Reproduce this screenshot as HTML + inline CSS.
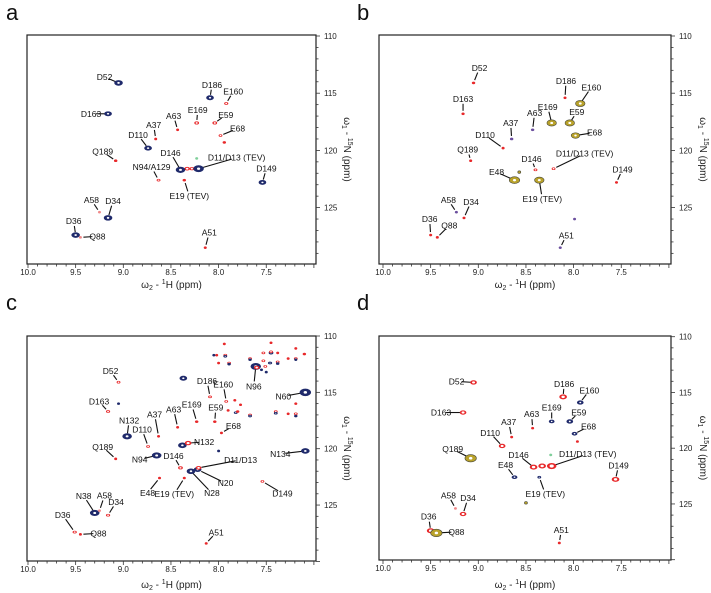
<!DOCTYPE html>
<html><head><meta charset="utf-8">
<style>
html,body{margin:0;padding:0;background:#fff;}
svg{display:block;font-family:"Liberation Sans",sans-serif;}
</style></head>
<body>
<svg id="fig" width="711" height="593" viewBox="0 0 711 593"></svg>
<script>
// ---- data ----
const hTicks = [10.0, 9.5, 9.0, 8.5, 8.0, 7.5];
const nTicks = [110, 115, 120, 125];
const panelLetters = ['a','b','c','d'];

// peaks: [H ppm, N ppm, colour code, half-width ppm]
const peaksA = [[9.05,114.1,'n',0.045],[8.09,115.4,'n',0.04],[7.92,115.9,'r',0.022],[9.16,116.8,'n',0.04],[8.23,117.6,'r',0.025],[8.04,117.6,'r',0.025],[8.43,118.2,'r',0.012],[8.66,119.0,'r',0.008],[7.98,118.7,'r',0.02],[7.94,119.3,'r',0.018],[8.74,119.8,'n',0.04],[9.08,120.9,'r',0.018],[8.33,121.6,'r',0.03],[8.28,121.6,'r',0.025],[8.40,121.7,'n',0.05],[8.21,121.6,'n',0.055],[8.23,120.7,'g',0.008],[8.63,122.6,'r',0.02],[8.36,122.6,'r',0.018],[7.54,122.8,'n',0.04],[9.25,125.4,'k',0.01],[9.16,125.9,'n',0.045],[9.50,127.4,'n',0.045],[9.45,127.6,'k',0.012],[8.14,128.5,'r',0.015]];
const peaksB = [[9.05,114.1,'r',0.018],[8.09,115.4,'r',0.016],[7.93,115.9,'y',0.05],[9.16,116.8,'r',0.017],[8.23,117.6,'y',0.05],[8.04,117.6,'y',0.05],[8.43,118.2,'p',0.018],[8.65,119.0,'p',0.018],[7.98,118.7,'y',0.045],[8.74,119.8,'r',0.016],[9.08,120.9,'r',0.016],[8.40,121.7,'r',0.02],[8.21,121.6,'r',0.02],[8.62,122.6,'y',0.055],[8.36,122.6,'y',0.05],[7.55,122.8,'r',0.016],[9.23,125.4,'p',0.016],[9.15,125.9,'r',0.016],[9.50,127.4,'r',0.016],[9.43,127.6,'r',0.016],[8.14,128.5,'p',0.016],[7.99,126.0,'p',0.005],[8.57,121.9,'y',0.008]];
const peaksC = [[9.05,114.1,'r',0.02],[8.37,113.75,'n',0.04],[9.05,116.0,'n',0.01],[8.09,115.4,'r',0.02],[7.92,115.8,'r',0.02],[9.16,116.7,'r',0.022],[8.23,117.6,'r',0.018],[8.04,117.6,'r',0.018],[8.43,118.1,'r',0.008],[8.63,118.9,'r',0.007],[7.97,118.6,'r',0.016],[8.96,118.9,'n',0.05],[8.74,119.8,'r',0.02],[8.38,119.7,'n',0.045],[8.32,119.5,'r',0.035],[9.08,120.9,'r',0.014],[8.65,120.6,'n',0.05],[8.40,121.7,'r',0.025],[8.29,122.0,'n',0.045],[8.22,121.85,'n',0.04],[8.21,121.7,'r',0.03],[8.62,122.6,'r',0.016],[8.36,122.6,'r',0.016],[7.54,122.9,'r',0.02],[9.30,125.7,'n',0.05],[9.25,125.5,'k',0.012],[9.16,125.9,'r',0.022],[9.51,127.4,'r',0.022],[9.45,127.6,'r',0.008],[8.13,128.4,'r',0.01],[7.09,115.0,'n',0.06],[7.09,120.2,'n',0.045],[7.61,112.7,'n',0.055],[7.60,112.8,'r',0.03],[8.00,120.2,'n',0.015],[7.93,111.7,'r',0.02],[7.93,111.8,'n',0.02],[8.02,111.7,'r',0.015],[7.94,110.7,'r',0.008],[7.89,112.4,'r',0.02],[7.89,112.5,'n',0.018],[8.00,112.4,'r',0.015],[7.67,112.0,'r',0.02],[7.67,112.1,'n',0.018],[7.53,111.5,'r',0.02],[7.45,111.5,'n',0.025],[7.45,111.4,'r',0.02],[7.45,110.6,'r',0.008],[7.53,112.2,'r',0.02],[7.51,112.7,'r',0.02],[7.46,112.4,'n',0.022],[7.38,112.3,'r',0.02],[7.38,112.45,'n',0.018],[7.38,111.5,'r',0.015],[7.27,112.0,'r',0.015],[7.19,112.0,'r',0.02],[7.19,112.1,'n',0.015],[7.10,111.6,'r',0.018],[7.19,111.1,'r',0.007],[7.19,116.0,'r',0.007],[7.19,116.9,'r',0.02],[7.19,117.1,'n',0.018],[7.27,116.9,'r',0.012],[7.40,116.7,'r',0.02],[7.40,116.85,'n',0.02],[7.67,117.0,'r',0.02],[7.67,117.1,'n',0.02],[7.82,116.8,'n',0.02],[7.80,116.7,'r',0.018],[7.77,116.1,'r',0.01],[7.83,115.7,'r',0.01],[7.90,116.6,'r',0.012],[7.50,113.2,'n',0.01],[8.05,111.7,'n',0.008],[7.55,113.0,'n',0.012]];
const peaksD = [[9.05,114.1,'r',0.035],[8.11,115.4,'r',0.04],[7.93,115.9,'n',0.035],[9.16,116.8,'r',0.035],[8.23,117.6,'n',0.03],[8.04,117.6,'n',0.035],[8.43,118.2,'r',0.01],[8.65,119.0,'r',0.008],[7.99,118.7,'n',0.03],[7.96,119.4,'r',0.015],[8.75,119.8,'r',0.035],[9.08,120.9,'y',0.06],[8.42,121.7,'r',0.04],[8.33,121.6,'r',0.04],[8.23,121.6,'r',0.05],[8.24,120.6,'g',0.008],[8.62,122.6,'n',0.03],[8.36,122.6,'n',0.02],[7.56,122.8,'r',0.04],[9.24,125.4,'k',0.008],[9.16,125.9,'r',0.035],[9.50,127.4,'r',0.04],[9.44,127.6,'y',0.06],[8.15,128.5,'r',0.01],[8.50,124.9,'y',0.005]];

// labels: [text, H ppm, N ppm] (anchored at peak)
const labelsA = [['D52',9.05,114.1],['D186',8.09,115.4],['E160',7.92,115.9],['D163',9.16,116.8],['E169',8.23,117.6],['E59',8.04,117.6],['A63',8.43,118.2],['A37',8.66,119.0],['E68',7.98,118.7],['D110',8.74,119.8],['Q189',9.08,120.9],['D146',8.40,121.7],['D11/D13 (TEV)',8.21,121.6],['N94/A129',8.63,122.6],['E19 (TEV)',8.36,122.6],['D149',7.54,122.8],['A58',9.25,125.4],['D34',9.16,125.9],['D36',9.50,127.4],['Q88',9.45,127.6],['A51',8.14,128.5]];
const labelsB = [['D52',9.05,114.1],['D186',8.09,115.4],['E160',7.93,115.9],['D163',9.16,116.8],['E169',8.23,117.6],['E59',8.04,117.6],['A63',8.43,118.2],['A37',8.65,119.0],['E68',7.98,118.7],['D110',8.74,119.8],['Q189',9.08,120.9],['D146',8.40,121.7],['D11/D13 (TEV)',8.21,121.6],['E48',8.62,122.6],['E19 (TEV)',8.36,122.6],['D149',7.55,122.8],['A58',9.23,125.4],['D34',9.15,125.9],['D36',9.50,127.4],['Q88',9.43,127.6],['A51',8.14,128.5]];
const labelsC = [['D52',9.05,114.1],['D163',9.16,116.7],['N132',8.96,118.9],['A37',8.63,118.9],['A63',8.43,118.1],['D186',8.09,115.4],['E160',7.92,115.8],['E169',8.23,117.6],['E59',8.04,117.6],['E68',7.97,118.6],['D110',8.74,119.8],['N132',8.32,119.5],['Q189',9.08,120.9],['N94',8.65,120.6],['D146',8.40,121.7],['D11/D13',8.21,121.7],['N20',8.21,121.9],['N28',8.29,122.0],['E19 (TEV)',8.36,122.6],['E48',8.62,122.6],['D149',7.54,122.9],['N38',9.30,125.7],['A58',9.25,125.5],['D34',9.16,125.9],['D36',9.51,127.4],['Q88',9.45,127.6],['A51',8.13,128.4],['N96',7.61,112.7],['N60',7.09,115.0],['N134',7.09,120.2]];
const labelsD = [['D52',9.05,114.1],['D186',8.11,115.4],['E160',7.93,115.9],['D163',9.16,116.8],['E169',8.23,117.6],['E59',8.04,117.6],['A63',8.43,118.2],['A37',8.65,119.0],['E68',7.99,118.7],['D110',8.75,119.8],['Q189',9.08,120.9],['D146',8.42,121.7],['D11/D13 (TEV)',8.23,121.6],['E48',8.62,122.6],['E19 (TEV)',8.36,122.6],['D149',7.56,122.8],['A58',9.24,125.4],['D34',9.16,125.9],['D36',9.50,127.4],['Q88',9.44,127.6],['A51',8.15,128.5]];

// ---- layout (pixel offsets of label centres from their peak) ----
const offA = [[-14,-6],[2,-13],[7,-12],[-17,0],[1,-13],[11,-8],[-4,-14],[-2,-14],[17,-7],[-10,-13],[-13,-9],[-10,-17],[38,-11],[-7,-13],[5,16],[4,-14],[-8,-12],[5,-17],[-2,-14],[17,-1],[4,-15]];
const offB = [[6,-15],[1,-17],[11,-16],[0,-15],[-4,-16],[7,-11],[2,-17],[-1,-16],[19,-3],[-18,-13],[-3,-11],[-4,-11],[31,-15],[-18,-8],[3,19],[6,-13],[-8,-12],[7,-16],[-1,-16],[12,-12],[6,-12]];
const offC = [[-8,-11],[-9,-10],[2,-16],[-4,-22],[-4,-18],[-3,-16],[-3,-17],[-5,-17],[1,-14],[12,-7],[-6,-17],[16,-1],[-13,-12],[-17,4],[-7,-12],[42,-8],[27,13],[21,22],[-10,16],[-12,15],[20,12],[-11,-17],[5,-15],[8,-13],[-12,-17],[18,-1],[10,-11],[-2,20],[-22,4],[-25,3]];
const offD = [[-17,-1],[1,-13],[9,-12],[-22,0],[0,-14],[9,-9],[-1,-14],[-3,-15],[14,-7],[-12,-13],[-18,-9],[-15,-12],[36,-12],[-9,-12],[6,17],[3,-14],[-7,-13],[5,-16],[-2,-14],[20,-1],[2,-13]];

const panels = [
  {L:27,T:35,R:316,B:264,xH9:123.3,kx:95.3,yN0:36,ky:11.44,peaks:peaksA,labels:labelsA,offs:offA,lx:6,ly:20,xtY:288,ytX:344},
  {L:379,T:35,R:671,B:264,xH9:478.3,kx:95.3,yN0:36,ky:11.44,peaks:peaksB,labels:labelsB,offs:offB,lx:357,ly:20,xtY:288,ytX:700},
  {L:27,T:336,R:316,B:561,xH9:123.3,kx:95.3,yN0:336,ky:11.27,peaks:peaksC,labels:labelsC,offs:offC,lx:6,ly:310,xtY:588,ytX:344},
  {L:379,T:336,R:671,B:560,xH9:478.3,kx:95.3,yN0:336.7,ky:11.15,peaks:peaksD,labels:labelsD,offs:offD,lx:357,ly:310,xtY:588,ytX:700}
];
const colors = {n:'#1f2a6b',r:'#e8282a',y:'#b9a22a',p:'#6b4f9e',g:'#7fcf9a',k:'#f08a8a'};

const NS='http://www.w3.org/2000/svg';
const svg=document.getElementById('fig');
function mk(tag,attrs,parent){const e=document.createElementNS(NS,tag);for(const k in attrs)e.setAttribute(k,attrs[k]);(parent||svg).appendChild(e);return e;}

panels.forEach((p,pi)=>{
  const xs=h=>p.xH9+(9-h)*p.kx;
  const ys=n=>p.yN0+(n-110)*p.ky;
  const g=mk('g',{});
  
  
  const letter=mk('text',{x:p.lx,y:p.ly,'font-size':22,fill:'#111'},g);
  letter.textContent=panelLetters[pi];
  
  
  const frame=mk('rect',{x:p.L,y:p.T,width:p.R-p.L,height:p.B-p.T,fill:'#fff',stroke:'#222','stroke-width':1.2},g);
  
  
  for(let v=100;v>=70;v-=1){const h=v/10;const x=xs(h);if(x<p.L-0.5||x>p.R+0.5)continue;
    const major=(v%5===0);
    const t=mk('line',{x1:x,x2:x,y1:p.B,y2:p.B+(major?4:2.5),stroke:'#333','stroke-width':0.8},g);
    
    }
  hTicks.forEach(h=>{const t=mk('text',{x:xs(h),y:p.B+11,'font-size':8,'text-anchor':'middle',fill:'#222'},g);t.textContent=h.toFixed(1);
    
    });
  for(let n=110;n<=130;n++){const y=ys(n);if(y>p.B+0.5)continue;const major=(n%5===0);
    const t=mk('line',{x1:p.R,x2:p.R+(major?4:2.5),y1:y,y2:y,stroke:'#333','stroke-width':0.8},g);
    
    }
  nTicks.forEach(n=>{const t=mk('text',{x:p.R+8,y:ys(n)+3,'font-size':8,fill:'#222'},g);t.textContent=n;
    
    });
  const xt=mk('text',{x:(p.L+p.R)/2,y:p.xtY,'font-size':10,'text-anchor':'middle',fill:'#222'},g);
  xt.innerHTML='ω<tspan font-size="7" dy="2">2</tspan><tspan dy="-2"> - </tspan><tspan font-size="7" dy="-4">1</tspan><tspan dy="4">H (ppm)</tspan>';
  
  
  const yt=mk('text',{x:0,y:0,'font-size':10,'text-anchor':'middle',fill:'#222',transform:`translate(${p.ytX},${(p.T+p.B)/2}) rotate(90)`},g);
  yt.innerHTML='ω<tspan font-size="7" dy="2">1</tspan><tspan dy="-2"> - </tspan><tspan font-size="7" dy="-4">15</tspan><tspan dy="4">N (ppm)</tspan>';
  
  
  p.labels.forEach((lb,i)=>{const px=xs(lb[1]),py=ys(lb[2]);const o=p.offs[i];
    const lx=px+o[0],ly=py+o[1];const d=Math.hypot(o[0],o[1]);
    if(d>8){const ex=lx-o[0]/d*5,ey=ly-o[1]/d*5;const sx=px+o[0]/d*3,sy=py+o[1]/d*3;
      const l=mk('line',{x1:sx,y1:sy,x2:ex,y2:ey,stroke:'#111','stroke-width':1.1},g);
      
      }
  });
  p.peaks.forEach(pk=>{const cx=xs(pk[0]),cy=ys(pk[1]);const rx=Math.max(1.5,pk[3]*p.kx);const ry=Math.max(1.3,Math.min(rx*0.65,4.5));
    const e=mk('ellipse',{cx:cx,cy:cy,rx:rx,ry:ry,fill:colors[pk[2]],stroke:pk[2]==='y'?'#4a4a3a':'none','stroke-width':0.6},g);
    
    
    if(rx>1.9){const f=pk[2]==='r'?0.45:0.3;const w=mk('ellipse',{cx:cx,cy:cy,rx:rx*f,ry:ry*(f+0.05),fill:'#fff'},g);
      
      }
  });
  p.labels.forEach((lb,i)=>{const px=xs(lb[1]),py=ys(lb[2]);const o=p.offs[i];
    const t=mk('text',{x:px+o[0],y:py+o[1]+3,'font-size':8.5,'text-anchor':'middle',fill:'#111'},g);
    t.textContent=lb[0];
    
    });
});
</script>
</body></html>
